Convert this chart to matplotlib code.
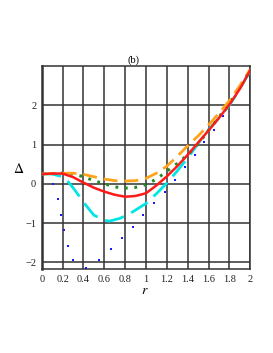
import matplotlib
matplotlib.use("Agg")
import matplotlib.pyplot as plt

r_grid = [0.0, 0.1, 0.2, 0.3, 0.4, 0.5, 0.6, 0.7, 0.8, 0.9, 1.0,
          1.1, 1.2, 1.3, 1.4, 1.5, 1.6, 1.7, 1.8, 1.9, 2.0]
red = [0.25, 0.26, 0.26, 0.17, 0.03, -0.10, -0.20, -0.28, -0.33, -0.31, -0.24,
       -0.04, 0.19, 0.45, 0.74, 1.05, 1.36, 1.68, 2.02, 2.42, 2.90]
orange = [0.25, 0.26, 0.27, 0.27, 0.24, 0.18, 0.12, 0.08, 0.07, 0.08, 0.14,
          0.27, 0.45, 0.70, 0.97, 1.22, 1.50, 1.80, 2.12, 2.50, 2.92]
green = [0.25, 0.26, 0.27, 0.25, 0.18, 0.08, 0.00, -0.08, -0.11, -0.09, -0.02,
         0.12, 0.32, 0.52, 0.74, 1.02, 1.36, 1.70, 2.06, 2.46, 2.90]
cyan_r = [0.0, 0.1, 0.2, 0.25, 0.3, 0.38, 0.4, 0.5, 0.6, 0.65, 0.75, 0.875, 1.0,
          1.1, 1.2, 1.3, 1.4, 1.5, 1.6, 1.7, 1.8, 1.9, 2.0]
cyan = [0.25, 0.25, 0.18, 0.06, -0.10, -0.39, -0.47, -0.80, -0.93, -0.95, -0.88,
        -0.71, -0.50, -0.25, 0.02, 0.33, 0.66, 1.03, 1.38, 1.68, 2.00, 2.42, 2.88]
blue_r = [0.11, 0.155, 0.183, 0.212, 0.247, 0.30, 0.42, 0.548, 0.66, 0.77, 0.875,
          0.975, 1.075, 1.18, 1.275, 1.37, 1.465, 1.56, 1.65, 1.74, 1.81, 1.89, 1.97]
blue = [0.0, -0.39, -0.80, -1.18, -1.58, -1.95, -2.15, -1.95, -1.67, -1.39, -1.10,
        -0.80, -0.50, -0.20, 0.10, 0.43, 0.74, 1.06, 1.38, 1.73, 2.06, 2.41, 2.76]

xticks = [0, 0.2, 0.4, 0.6, 0.8, 1, 1.2, 1.4, 1.6, 1.8, 2]
xticklabels = ["0", "0.2", "0.4", "0.6", "0.8", "1", "1.2", "1.4", "1.6", "1.8", "2"]
yticks = [-2, -1, 0, 1, 2]
yticklabels = ["\u22122", "\u22121", "0", "1", "2"]

plt.rcParams['font.family'] = ['Liberation Serif', 'DejaVu Serif']
plt.rcParams['mathtext.fontset'] = 'stix'

fig = plt.figure(figsize=(2.73, 3.53), dpi=100)
ax = fig.add_axes([0.153, 0.238, 0.764, 0.575])

gc = '#333333'
ax.set_xlim(0, 2)
ax.set_ylim(-2.17, 3.0)
ax.set_xticks(xticks)
ax.set_xticklabels(xticklabels)
ax.set_yticks(yticks)
ax.set_yticklabels(yticklabels)
ax.grid(True, color=gc, linewidth=1.1)
ax.set_axisbelow(True)
for s in ax.spines.values():
    s.set_color(gc)
    s.set_linewidth(1.1)
ax.spines['left'].set_linewidth(1.8)
ax.tick_params(length=0, labelsize=7.5, pad=4, colors='#222222')

ax.plot(blue_r, blue, linestyle='none', marker='s', markersize=1.8,
        color='#1a1aff', markeredgewidth=0, zorder=3)
ax.plot(cyan_r, cyan, color='#00e5e5', linewidth=2.0, dashes=(7, 3), zorder=4)
ax.plot(r_grid, green, color='#1f8a1f', linewidth=2.2, dashes=(0.9, 2.2), zorder=5)
ax.plot(r_grid, orange, color='#ffa31a', linewidth=2.0, dashes=(5, 2.5), zorder=6)
ax.plot(r_grid, red, color='#ff1a1a', linewidth=1.8, zorder=7)

ax.text(0.44, 1.005, "(b)", transform=ax.transAxes, ha='center', va='bottom', fontsize=7.5)
fig.text(18.3 / 273, 1 - 169 / 353, r"$\mathit{\Delta}$", ha='center', va='center', fontsize=10)
fig.text(145 / 273, 1 - 291 / 353, r"$\mathit{r}$", ha='center', va='center', fontsize=10)

fig.savefig("out.png", dpi=100)
